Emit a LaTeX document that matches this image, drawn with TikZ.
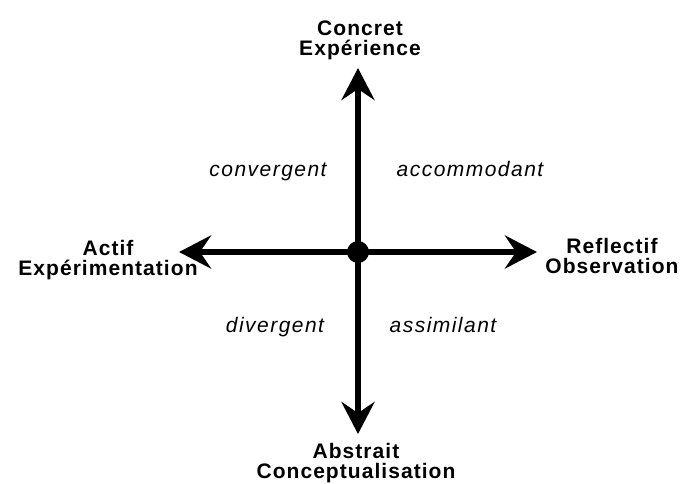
\documentclass[tikz,border=0pt]{standalone}
\usepackage{fontspec}
\setmainfont{Liberation Sans}
\newfontfamily\boldlbl[LetterSpace=5]{Liberation Sans}
\newfontfamily\itlbl[LetterSpace=7]{Liberation Sans}
\usetikzlibrary{arrows.meta}
\begin{document}
\begin{tikzpicture}[x=1pt,y=-1pt,
  axis/.style={line width=6pt,-{Stealth[length=32pt,width=33pt,inset=11pt]}},
  pole/.style={font=\boldlbl\bfseries\fontsize{21}{19.5}\selectfont,align=center,inner sep=0pt,anchor=base},
  style/.style={font=\itlbl\itshape\fontsize{21}{24}\selectfont,inner sep=0pt,anchor=base}]
\useasboundingbox (0,0) rectangle (681,483);
\node[circle,fill=black,minimum size=22pt,inner sep=0pt] (c) at (358,252) {};
\coordinate (top) at (358,68);
\coordinate (bot) at (358,434);
\coordinate (lft) at (179,252);
\coordinate (rgt) at (537,252);
\draw[axis] (c.center) -- (top);
\draw[axis] (c.center) -- (bot);
\draw[axis] (c.center) -- (lft);
\draw[axis] (c.center) -- (rgt);
\node[pole] (ce) at (360,55) {Concret\\Expérience};
\node[pole] (ae) at (108,275) {Actif\\Expérimentation};
\node[pole] (ro) at (612,273) {Reflectif\\Observation};
\node[pole] (ac) at (356,478) {Abstrait\\Conceptualisation};
\node[style] (conv) at (268,176) {convergent};
\node[style] (acco) at (470,176) {accommodant};
\node[style] (dive) at (275,332) {divergent};
\node[style] (assi) at (443,332) {assimilant};
\end{tikzpicture}
\end{document}
